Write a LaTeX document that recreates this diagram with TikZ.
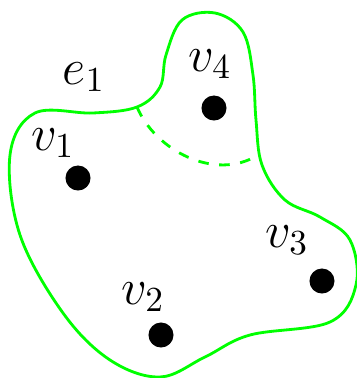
\documentclass[tikz,border=0pt]{standalone}
\usepackage{tikz}
\usetikzlibrary{positioning}

\begin{document}
\begin{tikzpicture}[
    x=0.01cm, y=-0.01cm,
    hyperedge/.style = {draw=green, thick},
    inner/.style = {draw=green, thick, dashed},
    vertex/.style = {circle, fill=black, inner sep=0pt, minimum size=0.25cm},
    tag/.style = {font=\Large}
]
\useasboundingbox (0,0) rectangle (357,378);

% Hyperedge outline
\draw [hyperedge] plot [smooth cycle, tension=0.6] coordinates {
    (215,13) (243,32) (253,75) (256,120) (262,165) (285,200) (320,217)
    (350,240) (356,285) (330,322) (250,335) (205,357) (160,377) (110,360)
    (63,313) (20,235) (10,155) (35,113) (93,113) (137,107) (160,87)
    (166,55) (182,20)};

% Inner boundary
\coordinate (cutl) at (137,107);
\coordinate (cutr) at (258,155);
\draw [inner] (cutl) .. controls (155,150) and (215,182) .. (cutr);

% Vertices
\node (v1) [vertex] at (78,178) {};
\node (v2) [vertex] at (161,335) {};
\node (v3) [vertex] at (322,281) {};
\node (v4) [vertex] at (214,108) {};

% Labels
\node (l1) [tag] at (53,143) {$v_1$};
\node (l2) [tag] at (143,297) {$v_2$};
\node (l3) [tag] at (287,240) {$v_3$};
\node (l4) [tag] at (210,64) {$v_4$};
\node (le) [tag] at (84,77) {$e_1$};

\end{tikzpicture}
\end{document}
